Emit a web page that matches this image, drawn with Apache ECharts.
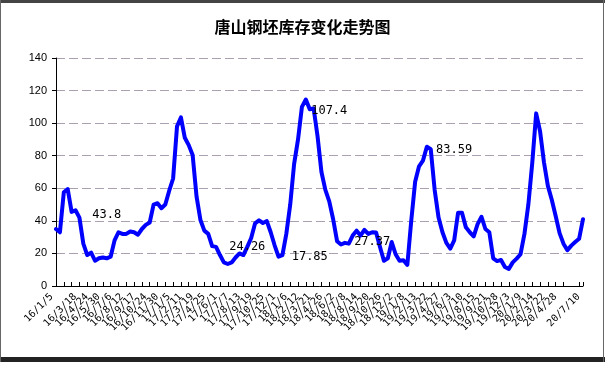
<!DOCTYPE html>
<html><head><meta charset="utf-8">
<script src="https://cdn.jsdelivr.net/npm/echarts@6/dist/echarts.min.js"></script>
<style>html,body{margin:0;padding:0;background:#fff}#c{width:605px;height:365px}</style>
</head><body><div id="c"></div>
<script>
const titleText = '唐山钢坯库存变化走势图';
const tickLabels = ['16/1/5','16/2/11','16/3/18','16/4/24','16/5/30','16/7/6','16/8/12','16/9/17','16/10/24','16/11/30',
  '17/1/5','17/2/11','17/3/19','17/4/25','17/6/1','17/7/7','17/8/13','17/9/19','17/10/25','17/12/1',
  '18/1/6','18/2/12','18/3/21','18/4/26','18/6/2','18/7/8','18/8/14','18/9/20','18/10/26','18/12/2',
  '19/1/8','19/2/13','19/3/22','19/4/27','19/6/3','19/7/10','19/8/15','19/9/21','19/10/28','19/12/3',
  '20/1/9','20/2/14','20/3/22','20/4/28','20/6/3','20/7/10'];
const stock = [35,33,57.5,59.5,45.5,46.5,42,26,19,20.5,
  15.5,17,17.5,17,18,28,33,32,32,33.5,
  33,31.5,35,37.5,39,50,50.8,47.8,50,58.5,
  66,98,103.5,91,86.5,80.5,55,40.5,34,32,
  24.5,24,19,14.5,13.5,14.5,17.5,20,19,24,
  29.5,38.5,40.3,38.7,39.8,33,25,18,19,32,
  50,75,90,110,114.5,108.5,109,92,70,59,
  52,41,27.5,25.5,26.5,26,31,34,31,34.5,
  32,33,32.8,24,15.5,17,27,19.5,15.5,15.8,
  13,40,64,73.5,77,85.5,84,59,42,33,
  26.5,23,28,45,45,36,33,30.5,38,42.5,
  35,33,17,15.3,16,11.7,10.5,14.5,16.8,19.5,
  32,50,75.5,106,95,76,61.5,53,43,32.5,
  26,22,24.8,27,29,41];
const annotationTexts = ['43.8','24.26','17.85','107.4','27.37','83.59'];
const annotationIndex = [13,49,65,70,81,102];
const labelStep = 3;
const categories = stock.map((_, i) => String(i));

const chart = echarts.init(document.getElementById('c'));
chart.setOption({
  animation: false,
  backgroundColor: '#fff',
  title: {text: titleText, left: 'center', top: 14,
    textStyle: {fontFamily: 'Noto Sans CJK SC', fontSize: 16, fontWeight: 'bold', color: '#000'}},
  grid: {left: 56, right: 22, top: 58, bottom: 79},
  xAxis: {
    type: 'category', data: categories, boundaryGap: false,
    axisLine: {lineStyle: {color: '#000', width: 1}},
    axisTick: {inside: true, length: 4, interval: 1, lineStyle: {color: '#000'}},
    axisLabel: {interval: labelStep - 1, rotate: 45, margin: 5, fontSize: 10,
      padding: [0, 6, 0, 0],
      showMinLabel: true, showMaxLabel: true, hideOverlap: false,
      fontFamily: 'DejaVu Sans Mono', color: '#000',
      formatter: (v, i) => tickLabels[i / labelStep] || ''},
    splitLine: {show: false}
  },
  yAxis: {
    type: 'value', min: 0, max: 140, interval: 20,
    axisLine: {show: true, lineStyle: {color: '#000'}},
    axisTick: {show: true, length: 4, lineStyle: {color: '#000'}},
    axisLabel: {fontSize: 11, fontFamily: 'Liberation Sans', color: '#000', margin: 9},
    splitLine: {lineStyle: {color: '#aaa0b0', type: [9, 4], width: 1}}
  },
  series: [{
    type: 'line', data: stock, symbol: 'none',
    lineStyle: {color: '#0000ff', width: 4, join: 'round', cap: 'round'},
    markPoint: {
      symbol: 'circle', symbolSize: 0, silent: true,
      label: {show: true, position: 'inside', color: '#000', fontSize: 12,
        fontFamily: 'DejaVu Sans Mono', formatter: p => p.name},
      data: annotationTexts.map((t, k) => ({name: t, coord: [annotationIndex[k], parseFloat(t)]}))
    }
  }],
  graphic: [
    {type: 'rect', shape: {x: 0, y: 0, width: 605, height: 3}, style: {fill: '#444'}},
    {type: 'rect', shape: {x: 0, y: 357, width: 605, height: 5}, style: {fill: '#222'}},
    {type: 'rect', shape: {x: 0, y: 0, width: 1, height: 362}, style: {fill: '#666'}},
    {type: 'rect', shape: {x: 603, y: 0, width: 1, height: 362}, style: {fill: '#666'}}
  ]
});
</script></body></html>
